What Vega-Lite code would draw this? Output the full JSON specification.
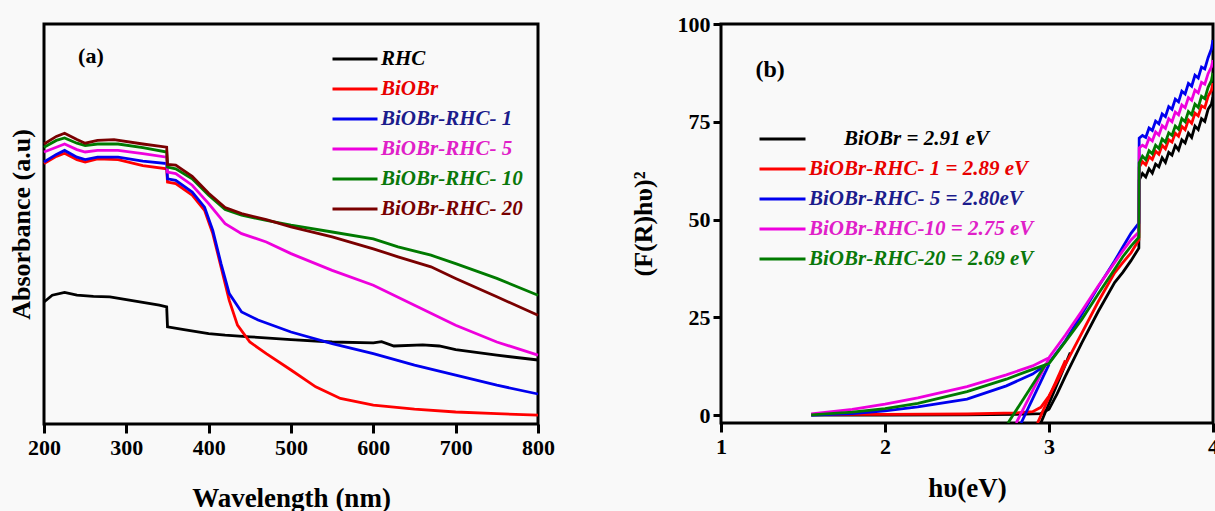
{
  "$schema": "https://vega.github.io/schema/vega-lite/v6.json",
  "background": "#f9f9f9",
  "padding": {"left": 6, "top": 11, "right": 0, "bottom": 0},
  "spacing": 72,
  "config": {
    "font": "Liberation Serif",
    "view": {"stroke": "#000", "strokeWidth": 3},
    "axis": {"grid": false, "domain": false, "tickColor": "#000", "tickWidth": 3, "labelColor": "#000", "titleColor": "#000", "labelFont": "Liberation Serif", "titleFont": "Liberation Serif", "labelFontWeight": "bold", "titleFontWeight": "bold", "labelFlush": false},
    "legend": {"padding": 0}
  },
  "resolve": {"scale": {"color": "independent"}, "legend": {"color": "independent"}},
  "hconcat": [
    {
      "width": 494,
      "height": 400,
      "layer": [
        {
          "data": {"values": [
            {"s": "RHC", "w": 200, "a": 0.305}, {"s": "RHC", "w": 210, "a": 0.322}, {"s": "RHC", "w": 225, "a": 0.329}, {"s": "RHC", "w": 240, "a": 0.322}, {"s": "RHC", "w": 260, "a": 0.319}, {"s": "RHC", "w": 280, "a": 0.318}, {"s": "RHC", "w": 300, "a": 0.311}, {"s": "RHC", "w": 320, "a": 0.304}, {"s": "RHC", "w": 340, "a": 0.297}, {"s": "RHC", "w": 349, "a": 0.293}, {"s": "RHC", "w": 350, "a": 0.243}, {"s": "RHC", "w": 370, "a": 0.236}, {"s": "RHC", "w": 400, "a": 0.226}, {"s": "RHC", "w": 420, "a": 0.222}, {"s": "RHC", "w": 450, "a": 0.218}, {"s": "RHC", "w": 500, "a": 0.211}, {"s": "RHC", "w": 550, "a": 0.205}, {"s": "RHC", "w": 600, "a": 0.203}, {"s": "RHC", "w": 610, "a": 0.206}, {"s": "RHC", "w": 625, "a": 0.195}, {"s": "RHC", "w": 660, "a": 0.198}, {"s": "RHC", "w": 680, "a": 0.195}, {"s": "RHC", "w": 700, "a": 0.186}, {"s": "RHC", "w": 750, "a": 0.172}, {"s": "RHC", "w": 800, "a": 0.160},
            {"s": "BiOBr", "w": 200, "a": 0.651}, {"s": "BiOBr", "w": 215, "a": 0.669}, {"s": "BiOBr", "w": 225, "a": 0.677}, {"s": "BiOBr", "w": 240, "a": 0.661}, {"s": "BiOBr", "w": 250, "a": 0.655}, {"s": "BiOBr", "w": 265, "a": 0.663}, {"s": "BiOBr", "w": 290, "a": 0.661}, {"s": "BiOBr", "w": 320, "a": 0.646}, {"s": "BiOBr", "w": 349, "a": 0.638}, {"s": "BiOBr", "w": 350, "a": 0.605}, {"s": "BiOBr", "w": 360, "a": 0.601}, {"s": "BiOBr", "w": 380, "a": 0.572}, {"s": "BiOBr", "w": 395, "a": 0.534}, {"s": "BiOBr", "w": 405, "a": 0.476}, {"s": "BiOBr", "w": 415, "a": 0.393}, {"s": "BiOBr", "w": 425, "a": 0.309}, {"s": "BiOBr", "w": 435, "a": 0.247}, {"s": "BiOBr", "w": 450, "a": 0.205}, {"s": "BiOBr", "w": 470, "a": 0.176}, {"s": "BiOBr", "w": 500, "a": 0.135}, {"s": "BiOBr", "w": 530, "a": 0.093}, {"s": "BiOBr", "w": 560, "a": 0.064}, {"s": "BiOBr", "w": 600, "a": 0.047}, {"s": "BiOBr", "w": 650, "a": 0.037}, {"s": "BiOBr", "w": 700, "a": 0.030}, {"s": "BiOBr", "w": 750, "a": 0.026}, {"s": "BiOBr", "w": 800, "a": 0.022},
            {"s": "BiOBr-RHC- 1", "w": 200, "a": 0.655}, {"s": "BiOBr-RHC- 1", "w": 215, "a": 0.674}, {"s": "BiOBr-RHC- 1", "w": 225, "a": 0.684}, {"s": "BiOBr-RHC- 1", "w": 240, "a": 0.667}, {"s": "BiOBr-RHC- 1", "w": 250, "a": 0.661}, {"s": "BiOBr-RHC- 1", "w": 265, "a": 0.667}, {"s": "BiOBr-RHC- 1", "w": 290, "a": 0.667}, {"s": "BiOBr-RHC- 1", "w": 320, "a": 0.657}, {"s": "BiOBr-RHC- 1", "w": 349, "a": 0.651}, {"s": "BiOBr-RHC- 1", "w": 350, "a": 0.613}, {"s": "BiOBr-RHC- 1", "w": 360, "a": 0.609}, {"s": "BiOBr-RHC- 1", "w": 380, "a": 0.580}, {"s": "BiOBr-RHC- 1", "w": 395, "a": 0.542}, {"s": "BiOBr-RHC- 1", "w": 405, "a": 0.484}, {"s": "BiOBr-RHC- 1", "w": 415, "a": 0.401}, {"s": "BiOBr-RHC- 1", "w": 425, "a": 0.326}, {"s": "BiOBr-RHC- 1", "w": 440, "a": 0.280}, {"s": "BiOBr-RHC- 1", "w": 460, "a": 0.260}, {"s": "BiOBr-RHC- 1", "w": 500, "a": 0.230}, {"s": "BiOBr-RHC- 1", "w": 550, "a": 0.201}, {"s": "BiOBr-RHC- 1", "w": 600, "a": 0.176}, {"s": "BiOBr-RHC- 1", "w": 650, "a": 0.147}, {"s": "BiOBr-RHC- 1", "w": 700, "a": 0.122}, {"s": "BiOBr-RHC- 1", "w": 750, "a": 0.097}, {"s": "BiOBr-RHC- 1", "w": 800, "a": 0.075},
            {"s": "BiOBr-RHC- 5", "w": 200, "a": 0.680}, {"s": "BiOBr-RHC- 5", "w": 215, "a": 0.692}, {"s": "BiOBr-RHC- 5", "w": 225, "a": 0.700}, {"s": "BiOBr-RHC- 5", "w": 240, "a": 0.686}, {"s": "BiOBr-RHC- 5", "w": 250, "a": 0.680}, {"s": "BiOBr-RHC- 5", "w": 265, "a": 0.684}, {"s": "BiOBr-RHC- 5", "w": 290, "a": 0.684}, {"s": "BiOBr-RHC- 5", "w": 320, "a": 0.676}, {"s": "BiOBr-RHC- 5", "w": 349, "a": 0.667}, {"s": "BiOBr-RHC- 5", "w": 350, "a": 0.630}, {"s": "BiOBr-RHC- 5", "w": 360, "a": 0.626}, {"s": "BiOBr-RHC- 5", "w": 380, "a": 0.597}, {"s": "BiOBr-RHC- 5", "w": 400, "a": 0.551}, {"s": "BiOBr-RHC- 5", "w": 420, "a": 0.501}, {"s": "BiOBr-RHC- 5", "w": 440, "a": 0.476}, {"s": "BiOBr-RHC- 5", "w": 470, "a": 0.455}, {"s": "BiOBr-RHC- 5", "w": 500, "a": 0.426}, {"s": "BiOBr-RHC- 5", "w": 550, "a": 0.384}, {"s": "BiOBr-RHC- 5", "w": 600, "a": 0.347}, {"s": "BiOBr-RHC- 5", "w": 650, "a": 0.297}, {"s": "BiOBr-RHC- 5", "w": 700, "a": 0.247}, {"s": "BiOBr-RHC- 5", "w": 750, "a": 0.205}, {"s": "BiOBr-RHC- 5", "w": 800, "a": 0.172},
            {"s": "BiOBr-RHC- 10", "w": 200, "a": 0.692}, {"s": "BiOBr-RHC- 10", "w": 215, "a": 0.709}, {"s": "BiOBr-RHC- 10", "w": 225, "a": 0.715}, {"s": "BiOBr-RHC- 10", "w": 240, "a": 0.702}, {"s": "BiOBr-RHC- 10", "w": 250, "a": 0.696}, {"s": "BiOBr-RHC- 10", "w": 265, "a": 0.700}, {"s": "BiOBr-RHC- 10", "w": 290, "a": 0.700}, {"s": "BiOBr-RHC- 10", "w": 320, "a": 0.691}, {"s": "BiOBr-RHC- 10", "w": 349, "a": 0.680}, {"s": "BiOBr-RHC- 10", "w": 350, "a": 0.642}, {"s": "BiOBr-RHC- 10", "w": 360, "a": 0.638}, {"s": "BiOBr-RHC- 10", "w": 380, "a": 0.613}, {"s": "BiOBr-RHC- 10", "w": 400, "a": 0.572}, {"s": "BiOBr-RHC- 10", "w": 420, "a": 0.536}, {"s": "BiOBr-RHC- 10", "w": 440, "a": 0.522}, {"s": "BiOBr-RHC- 10", "w": 470, "a": 0.509}, {"s": "BiOBr-RHC- 10", "w": 500, "a": 0.497}, {"s": "BiOBr-RHC- 10", "w": 550, "a": 0.480}, {"s": "BiOBr-RHC- 10", "w": 600, "a": 0.463}, {"s": "BiOBr-RHC- 10", "w": 630, "a": 0.443}, {"s": "BiOBr-RHC- 10", "w": 670, "a": 0.422}, {"s": "BiOBr-RHC- 10", "w": 700, "a": 0.401}, {"s": "BiOBr-RHC- 10", "w": 750, "a": 0.364}, {"s": "BiOBr-RHC- 10", "w": 800, "a": 0.322},
            {"s": "BiOBr-RHC- 20", "w": 200, "a": 0.700}, {"s": "BiOBr-RHC- 20", "w": 215, "a": 0.719}, {"s": "BiOBr-RHC- 20", "w": 225, "a": 0.727}, {"s": "BiOBr-RHC- 20", "w": 240, "a": 0.711}, {"s": "BiOBr-RHC- 20", "w": 250, "a": 0.702}, {"s": "BiOBr-RHC- 20", "w": 265, "a": 0.709}, {"s": "BiOBr-RHC- 20", "w": 285, "a": 0.711}, {"s": "BiOBr-RHC- 20", "w": 320, "a": 0.700}, {"s": "BiOBr-RHC- 20", "w": 349, "a": 0.692}, {"s": "BiOBr-RHC- 20", "w": 350, "a": 0.649}, {"s": "BiOBr-RHC- 20", "w": 360, "a": 0.647}, {"s": "BiOBr-RHC- 20", "w": 380, "a": 0.619}, {"s": "BiOBr-RHC- 20", "w": 400, "a": 0.577}, {"s": "BiOBr-RHC- 20", "w": 420, "a": 0.541}, {"s": "BiOBr-RHC- 20", "w": 440, "a": 0.526}, {"s": "BiOBr-RHC- 20", "w": 470, "a": 0.511}, {"s": "BiOBr-RHC- 20", "w": 500, "a": 0.493}, {"s": "BiOBr-RHC- 20", "w": 550, "a": 0.468}, {"s": "BiOBr-RHC- 20", "w": 600, "a": 0.438}, {"s": "BiOBr-RHC- 20", "w": 630, "a": 0.418}, {"s": "BiOBr-RHC- 20", "w": 670, "a": 0.393}, {"s": "BiOBr-RHC- 20", "w": 700, "a": 0.364}, {"s": "BiOBr-RHC- 20", "w": 750, "a": 0.318}, {"s": "BiOBr-RHC- 20", "w": 800, "a": 0.272}
          ]},
          "mark": {"type": "line", "strokeWidth": 2.8},
          "encoding": {
            "x": {"field": "w", "type": "quantitative", "scale": {"domain": [200, 800], "nice": false}, "axis": {"values": [200, 300, 400, 500, 600, 700, 800], "title": "Wavelength (nm)", "tickSize": 9, "labelPadding": 4, "labelFontSize": 22, "titleFontSize": 27, "titlePadding": 27}},
            "y": {"field": "a", "type": "quantitative", "scale": {"domain": [0, 1], "nice": false}, "axis": {"labels": false, "ticks": false, "title": "Absorbance (a.u)", "titleFontSize": 26, "titlePadding": 10}},
            "color": {"field": "s", "type": "nominal", "scale": {"domain": ["RHC", "BiOBr", "BiOBr-RHC- 1", "BiOBr-RHC- 5", "BiOBr-RHC- 10", "BiOBr-RHC- 20"], "range": ["#000000", "#ff0000", "#0000ee", "#ee00dd", "#007a00", "#7a0000"]},
              "legend": {"orient": "none", "legendX": 287, "legendY": 24, "title": null, "symbolType": "stroke", "symbolSize": 2025, "symbolStrokeWidth": 3, "labelFont": "Liberation Serif", "labelFontSize": 21, "labelFontWeight": "bold", "labelFontStyle": "italic", "clipHeight": 22, "rowPadding": 8, "labelOffset": 2, "labelLimit": 400,
                "encode": {"labels": {"update": {"fill": {"signal": "datum.value == 'RHC' ? '#000000' : datum.value == 'BiOBr' ? '#e80000' : datum.value == 'BiOBr-RHC- 1' ? '#1c1c8c' : datum.value == 'BiOBr-RHC- 5' ? '#e020c8' : datum.value == 'BiOBr-RHC- 10' ? '#0a780a' : '#780000'"}}}}}},
            "detail": {"field": "s"}
          }
        },
        {
          "data": {"values": [{"t": "(a)", "w": 257, "a": 0.92}]},
          "mark": {"type": "text", "fontSize": 22, "fontWeight": "bold", "font": "Liberation Serif", "color": "#000"},
          "encoding": {
            "x": {"field": "w", "type": "quantitative"},
            "y": {"field": "a", "type": "quantitative"},
            "text": {"field": "t"}
          }
        }
      ]
    },
    {
      "width": 492,
      "height": 399,
      "layer": [
        {
          "data": {"values": [
            {"s": "BiOBr = 2.91 eV", "g": "c", "e": 1.55, "v": 0}, {"s": "BiOBr = 2.91 eV", "g": "c", "e": 2.0, "v": 0}, {"s": "BiOBr = 2.91 eV", "g": "c", "e": 2.5, "v": 0.1}, {"s": "BiOBr = 2.91 eV", "g": "c", "e": 2.8, "v": 0.2}, {"s": "BiOBr = 2.91 eV", "g": "c", "e": 2.95, "v": 0.4}, {"s": "BiOBr = 2.91 eV", "g": "c", "e": 3.0, "v": 1.5}, {"s": "BiOBr = 2.91 eV", "g": "c", "e": 3.05, "v": 5.5}, {"s": "BiOBr = 2.91 eV", "g": "c", "e": 3.1, "v": 10}, {"s": "BiOBr = 2.91 eV", "g": "c", "e": 3.2, "v": 18.5}, {"s": "BiOBr = 2.91 eV", "g": "c", "e": 3.3, "v": 26.5}, {"s": "BiOBr = 2.91 eV", "g": "c", "e": 3.4, "v": 33.9}, {"s": "BiOBr = 2.91 eV", "g": "c", "e": 3.45, "v": 36.5}, {"s": "BiOBr = 2.91 eV", "g": "c", "e": 3.5, "v": 39.5}, {"s": "BiOBr = 2.91 eV", "g": "c", "e": 3.548, "v": 42.7},
            {"s": "BiOBr = 2.91 eV", "g": "c", "e": 3.55, "v": 60.1}, {"s": "BiOBr = 2.91 eV", "g": "c", "e": 3.57, "v": 61.8}, {"s": "BiOBr = 2.91 eV", "g": "c", "e": 3.59, "v": 60.9}, {"s": "BiOBr = 2.91 eV", "g": "c", "e": 3.61, "v": 63.0}, {"s": "BiOBr = 2.91 eV", "g": "c", "e": 3.63, "v": 61.9}, {"s": "BiOBr = 2.91 eV", "g": "c", "e": 3.65, "v": 64.2}, {"s": "BiOBr = 2.91 eV", "g": "c", "e": 3.67, "v": 63.5}, {"s": "BiOBr = 2.91 eV", "g": "c", "e": 3.69, "v": 65.8}, {"s": "BiOBr = 2.91 eV", "g": "c", "e": 3.71, "v": 64.6}, {"s": "BiOBr = 2.91 eV", "g": "c", "e": 3.73, "v": 67.2}, {"s": "BiOBr = 2.91 eV", "g": "c", "e": 3.75, "v": 66.5}, {"s": "BiOBr = 2.91 eV", "g": "c", "e": 3.77, "v": 68.9}, {"s": "BiOBr = 2.91 eV", "g": "c", "e": 3.79, "v": 67.8}, {"s": "BiOBr = 2.91 eV", "g": "c", "e": 3.81, "v": 70.4}, {"s": "BiOBr = 2.91 eV", "g": "c", "e": 3.83, "v": 69.6}, {"s": "BiOBr = 2.91 eV", "g": "c", "e": 3.85, "v": 72.1}, {"s": "BiOBr = 2.91 eV", "g": "c", "e": 3.87, "v": 71.0}, {"s": "BiOBr = 2.91 eV", "g": "c", "e": 3.89, "v": 73.9}, {"s": "BiOBr = 2.91 eV", "g": "c", "e": 3.91, "v": 73.0}, {"s": "BiOBr = 2.91 eV", "g": "c", "e": 3.93, "v": 75.8}, {"s": "BiOBr = 2.91 eV", "g": "c", "e": 3.95, "v": 75.1}, {"s": "BiOBr = 2.91 eV", "g": "c", "e": 3.97, "v": 78.2}, {"s": "BiOBr = 2.91 eV", "g": "c", "e": 3.99, "v": 79.5}, {"s": "BiOBr = 2.91 eV", "g": "c", "e": 4.0, "v": 81.3},
            {"s": "BiOBr = 2.91 eV", "g": "t", "e": 2.95, "v": -2}, {"s": "BiOBr = 2.91 eV", "g": "t", "e": 3.13, "v": 16},
            {"s": "BiOBr-RHC- 1 = 2.89 eV", "g": "c", "e": 1.55, "v": 0.2}, {"s": "BiOBr-RHC- 1 = 2.89 eV", "g": "c", "e": 2.0, "v": 0.2}, {"s": "BiOBr-RHC- 1 = 2.89 eV", "g": "c", "e": 2.5, "v": 0.3}, {"s": "BiOBr-RHC- 1 = 2.89 eV", "g": "c", "e": 2.8, "v": 0.6}, {"s": "BiOBr-RHC- 1 = 2.89 eV", "g": "c", "e": 2.9, "v": 0.9}, {"s": "BiOBr-RHC- 1 = 2.89 eV", "g": "c", "e": 2.95, "v": 2.0}, {"s": "BiOBr-RHC- 1 = 2.89 eV", "g": "c", "e": 3.0, "v": 4.9}, {"s": "BiOBr-RHC- 1 = 2.89 eV", "g": "c", "e": 3.05, "v": 8.8}, {"s": "BiOBr-RHC- 1 = 2.89 eV", "g": "c", "e": 3.1, "v": 13}, {"s": "BiOBr-RHC- 1 = 2.89 eV", "g": "c", "e": 3.2, "v": 21}, {"s": "BiOBr-RHC- 1 = 2.89 eV", "g": "c", "e": 3.3, "v": 29}, {"s": "BiOBr-RHC- 1 = 2.89 eV", "g": "c", "e": 3.4, "v": 36.4}, {"s": "BiOBr-RHC- 1 = 2.89 eV", "g": "c", "e": 3.45, "v": 39}, {"s": "BiOBr-RHC- 1 = 2.89 eV", "g": "c", "e": 3.5, "v": 41.5}, {"s": "BiOBr-RHC- 1 = 2.89 eV", "g": "c", "e": 3.548, "v": 44.8},
            {"s": "BiOBr-RHC- 1 = 2.89 eV", "g": "c", "e": 3.55, "v": 63.4}, {"s": "BiOBr-RHC- 1 = 2.89 eV", "g": "c", "e": 3.57, "v": 64.8}, {"s": "BiOBr-RHC- 1 = 2.89 eV", "g": "c", "e": 3.59, "v": 64.0}, {"s": "BiOBr-RHC- 1 = 2.89 eV", "g": "c", "e": 3.61, "v": 66.1}, {"s": "BiOBr-RHC- 1 = 2.89 eV", "g": "c", "e": 3.63, "v": 65.4}, {"s": "BiOBr-RHC- 1 = 2.89 eV", "g": "c", "e": 3.65, "v": 67.5}, {"s": "BiOBr-RHC- 1 = 2.89 eV", "g": "c", "e": 3.67, "v": 66.7}, {"s": "BiOBr-RHC- 1 = 2.89 eV", "g": "c", "e": 3.69, "v": 69.0}, {"s": "BiOBr-RHC- 1 = 2.89 eV", "g": "c", "e": 3.71, "v": 68.1}, {"s": "BiOBr-RHC- 1 = 2.89 eV", "g": "c", "e": 3.73, "v": 70.4}, {"s": "BiOBr-RHC- 1 = 2.89 eV", "g": "c", "e": 3.75, "v": 69.8}, {"s": "BiOBr-RHC- 1 = 2.89 eV", "g": "c", "e": 3.77, "v": 72.1}, {"s": "BiOBr-RHC- 1 = 2.89 eV", "g": "c", "e": 3.79, "v": 71.3}, {"s": "BiOBr-RHC- 1 = 2.89 eV", "g": "c", "e": 3.81, "v": 73.8}, {"s": "BiOBr-RHC- 1 = 2.89 eV", "g": "c", "e": 3.83, "v": 73.0}, {"s": "BiOBr-RHC- 1 = 2.89 eV", "g": "c", "e": 3.85, "v": 75.5}, {"s": "BiOBr-RHC- 1 = 2.89 eV", "g": "c", "e": 3.87, "v": 74.6}, {"s": "BiOBr-RHC- 1 = 2.89 eV", "g": "c", "e": 3.89, "v": 77.2}, {"s": "BiOBr-RHC- 1 = 2.89 eV", "g": "c", "e": 3.91, "v": 76.5}, {"s": "BiOBr-RHC- 1 = 2.89 eV", "g": "c", "e": 3.93, "v": 79.1}, {"s": "BiOBr-RHC- 1 = 2.89 eV", "g": "c", "e": 3.95, "v": 78.6}, {"s": "BiOBr-RHC- 1 = 2.89 eV", "g": "c", "e": 3.97, "v": 81.5}, {"s": "BiOBr-RHC- 1 = 2.89 eV", "g": "c", "e": 3.99, "v": 83.0}, {"s": "BiOBr-RHC- 1 = 2.89 eV", "g": "c", "e": 4.0, "v": 84.9},
            {"s": "BiOBr-RHC- 1 = 2.89 eV", "g": "t", "e": 2.93, "v": -2}, {"s": "BiOBr-RHC- 1 = 2.89 eV", "g": "t", "e": 3.1, "v": 14},
            {"s": "BiOBr-RHC- 5 = 2.80eV", "g": "c", "e": 1.55, "v": 0}, {"s": "BiOBr-RHC- 5 = 2.80eV", "g": "c", "e": 1.8, "v": 0.4}, {"s": "BiOBr-RHC- 5 = 2.80eV", "g": "c", "e": 2.0, "v": 1.1}, {"s": "BiOBr-RHC- 5 = 2.80eV", "g": "c", "e": 2.2, "v": 2.1}, {"s": "BiOBr-RHC- 5 = 2.80eV", "g": "c", "e": 2.5, "v": 4.1}, {"s": "BiOBr-RHC- 5 = 2.80eV", "g": "c", "e": 2.74, "v": 7.5}, {"s": "BiOBr-RHC- 5 = 2.80eV", "g": "c", "e": 2.9, "v": 10.5}, {"s": "BiOBr-RHC- 5 = 2.80eV", "g": "c", "e": 3.0, "v": 13.4}, {"s": "BiOBr-RHC- 5 = 2.80eV", "g": "c", "e": 3.1, "v": 19}, {"s": "BiOBr-RHC- 5 = 2.80eV", "g": "c", "e": 3.2, "v": 25.8}, {"s": "BiOBr-RHC- 5 = 2.80eV", "g": "c", "e": 3.3, "v": 32.8}, {"s": "BiOBr-RHC- 5 = 2.80eV", "g": "c", "e": 3.4, "v": 39.4}, {"s": "BiOBr-RHC- 5 = 2.80eV", "g": "c", "e": 3.45, "v": 43}, {"s": "BiOBr-RHC- 5 = 2.80eV", "g": "c", "e": 3.5, "v": 46.5}, {"s": "BiOBr-RHC- 5 = 2.80eV", "g": "c", "e": 3.548, "v": 49.1},
            {"s": "BiOBr-RHC- 5 = 2.80eV", "g": "c", "e": 3.55, "v": 70.8}, {"s": "BiOBr-RHC- 5 = 2.80eV", "g": "c", "e": 3.57, "v": 71.5}, {"s": "BiOBr-RHC- 5 = 2.80eV", "g": "c", "e": 3.59, "v": 71.0}, {"s": "BiOBr-RHC- 5 = 2.80eV", "g": "c", "e": 3.61, "v": 73.4}, {"s": "BiOBr-RHC- 5 = 2.80eV", "g": "c", "e": 3.63, "v": 72.8}, {"s": "BiOBr-RHC- 5 = 2.80eV", "g": "c", "e": 3.65, "v": 75.2}, {"s": "BiOBr-RHC- 5 = 2.80eV", "g": "c", "e": 3.67, "v": 74.5}, {"s": "BiOBr-RHC- 5 = 2.80eV", "g": "c", "e": 3.69, "v": 77.0}, {"s": "BiOBr-RHC- 5 = 2.80eV", "g": "c", "e": 3.71, "v": 76.3}, {"s": "BiOBr-RHC- 5 = 2.80eV", "g": "c", "e": 3.73, "v": 78.9}, {"s": "BiOBr-RHC- 5 = 2.80eV", "g": "c", "e": 3.75, "v": 78.2}, {"s": "BiOBr-RHC- 5 = 2.80eV", "g": "c", "e": 3.77, "v": 80.8}, {"s": "BiOBr-RHC- 5 = 2.80eV", "g": "c", "e": 3.79, "v": 80.1}, {"s": "BiOBr-RHC- 5 = 2.80eV", "g": "c", "e": 3.81, "v": 82.8}, {"s": "BiOBr-RHC- 5 = 2.80eV", "g": "c", "e": 3.83, "v": 82.1}, {"s": "BiOBr-RHC- 5 = 2.80eV", "g": "c", "e": 3.85, "v": 84.8}, {"s": "BiOBr-RHC- 5 = 2.80eV", "g": "c", "e": 3.87, "v": 84.1}, {"s": "BiOBr-RHC- 5 = 2.80eV", "g": "c", "e": 3.89, "v": 86.9}, {"s": "BiOBr-RHC- 5 = 2.80eV", "g": "c", "e": 3.91, "v": 86.2}, {"s": "BiOBr-RHC- 5 = 2.80eV", "g": "c", "e": 3.93, "v": 89.0}, {"s": "BiOBr-RHC- 5 = 2.80eV", "g": "c", "e": 3.95, "v": 88.5}, {"s": "BiOBr-RHC- 5 = 2.80eV", "g": "c", "e": 3.97, "v": 91.4}, {"s": "BiOBr-RHC- 5 = 2.80eV", "g": "c", "e": 3.99, "v": 93.6}, {"s": "BiOBr-RHC- 5 = 2.80eV", "g": "c", "e": 4.0, "v": 95.9},
            {"s": "BiOBr-RHC- 5 = 2.80eV", "g": "t", "e": 2.83, "v": -2}, {"s": "BiOBr-RHC- 5 = 2.80eV", "g": "t", "e": 3.0, "v": 13},
            {"s": "BiOBr-RHC-10 = 2.75 eV", "g": "c", "e": 1.55, "v": 0.3}, {"s": "BiOBr-RHC-10 = 2.75 eV", "g": "c", "e": 1.8, "v": 1.5}, {"s": "BiOBr-RHC-10 = 2.75 eV", "g": "c", "e": 2.0, "v": 2.8}, {"s": "BiOBr-RHC-10 = 2.75 eV", "g": "c", "e": 2.2, "v": 4.4}, {"s": "BiOBr-RHC-10 = 2.75 eV", "g": "c", "e": 2.5, "v": 7.3}, {"s": "BiOBr-RHC-10 = 2.75 eV", "g": "c", "e": 2.74, "v": 10.3}, {"s": "BiOBr-RHC-10 = 2.75 eV", "g": "c", "e": 2.9, "v": 12.6}, {"s": "BiOBr-RHC-10 = 2.75 eV", "g": "c", "e": 3.0, "v": 14.7}, {"s": "BiOBr-RHC-10 = 2.75 eV", "g": "c", "e": 3.1, "v": 20.5}, {"s": "BiOBr-RHC-10 = 2.75 eV", "g": "c", "e": 3.2, "v": 26.6}, {"s": "BiOBr-RHC-10 = 2.75 eV", "g": "c", "e": 3.3, "v": 33}, {"s": "BiOBr-RHC-10 = 2.75 eV", "g": "c", "e": 3.4, "v": 39}, {"s": "BiOBr-RHC-10 = 2.75 eV", "g": "c", "e": 3.45, "v": 42}, {"s": "BiOBr-RHC-10 = 2.75 eV", "g": "c", "e": 3.5, "v": 44.8}, {"s": "BiOBr-RHC-10 = 2.75 eV", "g": "c", "e": 3.548, "v": 46.8},
            {"s": "BiOBr-RHC-10 = 2.75 eV", "g": "c", "e": 3.55, "v": 68.3}, {"s": "BiOBr-RHC-10 = 2.75 eV", "g": "c", "e": 3.57, "v": 69.0}, {"s": "BiOBr-RHC-10 = 2.75 eV", "g": "c", "e": 3.59, "v": 68.5}, {"s": "BiOBr-RHC-10 = 2.75 eV", "g": "c", "e": 3.61, "v": 70.8}, {"s": "BiOBr-RHC-10 = 2.75 eV", "g": "c", "e": 3.63, "v": 70.1}, {"s": "BiOBr-RHC-10 = 2.75 eV", "g": "c", "e": 3.65, "v": 72.4}, {"s": "BiOBr-RHC-10 = 2.75 eV", "g": "c", "e": 3.67, "v": 71.6}, {"s": "BiOBr-RHC-10 = 2.75 eV", "g": "c", "e": 3.69, "v": 74.0}, {"s": "BiOBr-RHC-10 = 2.75 eV", "g": "c", "e": 3.71, "v": 73.3}, {"s": "BiOBr-RHC-10 = 2.75 eV", "g": "c", "e": 3.73, "v": 75.8}, {"s": "BiOBr-RHC-10 = 2.75 eV", "g": "c", "e": 3.75, "v": 75.0}, {"s": "BiOBr-RHC-10 = 2.75 eV", "g": "c", "e": 3.77, "v": 77.5}, {"s": "BiOBr-RHC-10 = 2.75 eV", "g": "c", "e": 3.79, "v": 76.8}, {"s": "BiOBr-RHC-10 = 2.75 eV", "g": "c", "e": 3.81, "v": 79.3}, {"s": "BiOBr-RHC-10 = 2.75 eV", "g": "c", "e": 3.83, "v": 78.6}, {"s": "BiOBr-RHC-10 = 2.75 eV", "g": "c", "e": 3.85, "v": 81.2}, {"s": "BiOBr-RHC-10 = 2.75 eV", "g": "c", "e": 3.87, "v": 80.5}, {"s": "BiOBr-RHC-10 = 2.75 eV", "g": "c", "e": 3.89, "v": 83.1}, {"s": "BiOBr-RHC-10 = 2.75 eV", "g": "c", "e": 3.91, "v": 82.4}, {"s": "BiOBr-RHC-10 = 2.75 eV", "g": "c", "e": 3.93, "v": 85.1}, {"s": "BiOBr-RHC-10 = 2.75 eV", "g": "c", "e": 3.95, "v": 84.6}, {"s": "BiOBr-RHC-10 = 2.75 eV", "g": "c", "e": 3.97, "v": 87.3}, {"s": "BiOBr-RHC-10 = 2.75 eV", "g": "c", "e": 3.99, "v": 89.0}, {"s": "BiOBr-RHC-10 = 2.75 eV", "g": "c", "e": 4.0, "v": 90.8},
            {"s": "BiOBr-RHC-10 = 2.75 eV", "g": "t", "e": 2.80, "v": -2}, {"s": "BiOBr-RHC-10 = 2.75 eV", "g": "t", "e": 3.0, "v": 14.5},
            {"s": "BiOBr-RHC-20 = 2.69 eV", "g": "c", "e": 1.55, "v": 0.1}, {"s": "BiOBr-RHC-20 = 2.69 eV", "g": "c", "e": 1.8, "v": 0.8}, {"s": "BiOBr-RHC-20 = 2.69 eV", "g": "c", "e": 2.0, "v": 1.7}, {"s": "BiOBr-RHC-20 = 2.69 eV", "g": "c", "e": 2.2, "v": 3.0}, {"s": "BiOBr-RHC-20 = 2.69 eV", "g": "c", "e": 2.5, "v": 6.0}, {"s": "BiOBr-RHC-20 = 2.69 eV", "g": "c", "e": 2.74, "v": 9.2}, {"s": "BiOBr-RHC-20 = 2.69 eV", "g": "c", "e": 2.9, "v": 11.7}, {"s": "BiOBr-RHC-20 = 2.69 eV", "g": "c", "e": 3.0, "v": 13.2}, {"s": "BiOBr-RHC-20 = 2.69 eV", "g": "c", "e": 3.1, "v": 18.8}, {"s": "BiOBr-RHC-20 = 2.69 eV", "g": "c", "e": 3.2, "v": 24.5}, {"s": "BiOBr-RHC-20 = 2.69 eV", "g": "c", "e": 3.3, "v": 31}, {"s": "BiOBr-RHC-20 = 2.69 eV", "g": "c", "e": 3.4, "v": 37.3}, {"s": "BiOBr-RHC-20 = 2.69 eV", "g": "c", "e": 3.45, "v": 40.5}, {"s": "BiOBr-RHC-20 = 2.69 eV", "g": "c", "e": 3.5, "v": 43.2}, {"s": "BiOBr-RHC-20 = 2.69 eV", "g": "c", "e": 3.548, "v": 45.5},
            {"s": "BiOBr-RHC-20 = 2.69 eV", "g": "c", "e": 3.55, "v": 64.5}, {"s": "BiOBr-RHC-20 = 2.69 eV", "g": "c", "e": 3.57, "v": 66.2}, {"s": "BiOBr-RHC-20 = 2.69 eV", "g": "c", "e": 3.59, "v": 65.3}, {"s": "BiOBr-RHC-20 = 2.69 eV", "g": "c", "e": 3.61, "v": 67.6}, {"s": "BiOBr-RHC-20 = 2.69 eV", "g": "c", "e": 3.63, "v": 66.8}, {"s": "BiOBr-RHC-20 = 2.69 eV", "g": "c", "e": 3.65, "v": 69.0}, {"s": "BiOBr-RHC-20 = 2.69 eV", "g": "c", "e": 3.67, "v": 68.2}, {"s": "BiOBr-RHC-20 = 2.69 eV", "g": "c", "e": 3.69, "v": 70.6}, {"s": "BiOBr-RHC-20 = 2.69 eV", "g": "c", "e": 3.71, "v": 69.8}, {"s": "BiOBr-RHC-20 = 2.69 eV", "g": "c", "e": 3.73, "v": 72.2}, {"s": "BiOBr-RHC-20 = 2.69 eV", "g": "c", "e": 3.75, "v": 71.5}, {"s": "BiOBr-RHC-20 = 2.69 eV", "g": "c", "e": 3.77, "v": 73.9}, {"s": "BiOBr-RHC-20 = 2.69 eV", "g": "c", "e": 3.79, "v": 73.1}, {"s": "BiOBr-RHC-20 = 2.69 eV", "g": "c", "e": 3.81, "v": 75.8}, {"s": "BiOBr-RHC-20 = 2.69 eV", "g": "c", "e": 3.83, "v": 75.0}, {"s": "BiOBr-RHC-20 = 2.69 eV", "g": "c", "e": 3.85, "v": 77.6}, {"s": "BiOBr-RHC-20 = 2.69 eV", "g": "c", "e": 3.87, "v": 76.8}, {"s": "BiOBr-RHC-20 = 2.69 eV", "g": "c", "e": 3.89, "v": 79.5}, {"s": "BiOBr-RHC-20 = 2.69 eV", "g": "c", "e": 3.91, "v": 78.7}, {"s": "BiOBr-RHC-20 = 2.69 eV", "g": "c", "e": 3.93, "v": 81.5}, {"s": "BiOBr-RHC-20 = 2.69 eV", "g": "c", "e": 3.95, "v": 80.9}, {"s": "BiOBr-RHC-20 = 2.69 eV", "g": "c", "e": 3.97, "v": 83.8}, {"s": "BiOBr-RHC-20 = 2.69 eV", "g": "c", "e": 3.99, "v": 85.5}, {"s": "BiOBr-RHC-20 = 2.69 eV", "g": "c", "e": 4.0, "v": 87.5},
            {"s": "BiOBr-RHC-20 = 2.69 eV", "g": "t", "e": 2.75, "v": -2}, {"s": "BiOBr-RHC-20 = 2.69 eV", "g": "t", "e": 2.98, "v": 13}
          ]},
          "mark": {"type": "line", "strokeWidth": 2.8, "clip": true},
          "encoding": {
            "x": {"field": "e", "type": "quantitative", "scale": {"domain": [1, 4], "nice": false}, "axis": {"values": [1, 2, 3, 4], "format": "d", "title": "hυ(eV)", "tickSize": 9, "labelPadding": 4, "labelFontSize": 22, "titleFontSize": 27, "titlePadding": 18}},
            "y": {"field": "v", "type": "quantitative", "scale": {"domain": [-2, 100], "nice": false}, "axis": {"values": [0, 25, 50, 75, 100], "title": "(F(R)hυ)²", "tickSize": 8, "labelPadding": 3, "labelFontSize": 22, "titleFontSize": 26, "titlePadding": 21}},
            "color": {"field": "s", "type": "nominal", "scale": {"domain": ["BiOBr = 2.91 eV", "BiOBr-RHC- 1 = 2.89 eV", "BiOBr-RHC- 5 = 2.80eV", "BiOBr-RHC-10 = 2.75 eV", "BiOBr-RHC-20 = 2.69 eV"], "range": ["#000000", "#ff0000", "#0000ee", "#ee00dd", "#007a00"]},
              "legend": {"orient": "none", "legendX": 37, "legendY": 104, "title": null, "symbolType": "stroke", "symbolSize": 2116, "symbolStrokeWidth": 3, "labelFont": "Liberation Serif", "labelFontSize": 21, "labelFontWeight": "bold", "labelFontStyle": "italic", "clipHeight": 22, "rowPadding": 8, "labelOffset": 2, "labelLimit": 400,
                "encode": {"labels": {"update": {
                  "dx": {"signal": "datum.value == 'BiOBr = 2.91 eV' ? 35 : 0"},
                  "fill": {"signal": "datum.value == 'BiOBr-RHC- 1 = 2.89 eV' ? '#e80000' : datum.value == 'BiOBr-RHC- 5 = 2.80eV' ? '#1c1c8c' : datum.value == 'BiOBr-RHC-10 = 2.75 eV' ? '#e020c8' : datum.value == 'BiOBr-RHC-20 = 2.69 eV' ? '#0a780a' : '#000000'"}}}}}},
            "detail": {"field": "g"}
          }
        },
        {
          "data": {"values": [{"t": "(b)", "e": 1.30, "v": 88.2}]},
          "mark": {"type": "text", "fontSize": 24, "fontWeight": "bold", "font": "Liberation Serif", "color": "#000"},
          "encoding": {
            "x": {"field": "e", "type": "quantitative"},
            "y": {"field": "v", "type": "quantitative"},
            "text": {"field": "t"}
          }
        }
      ]
    }
  ]
}
